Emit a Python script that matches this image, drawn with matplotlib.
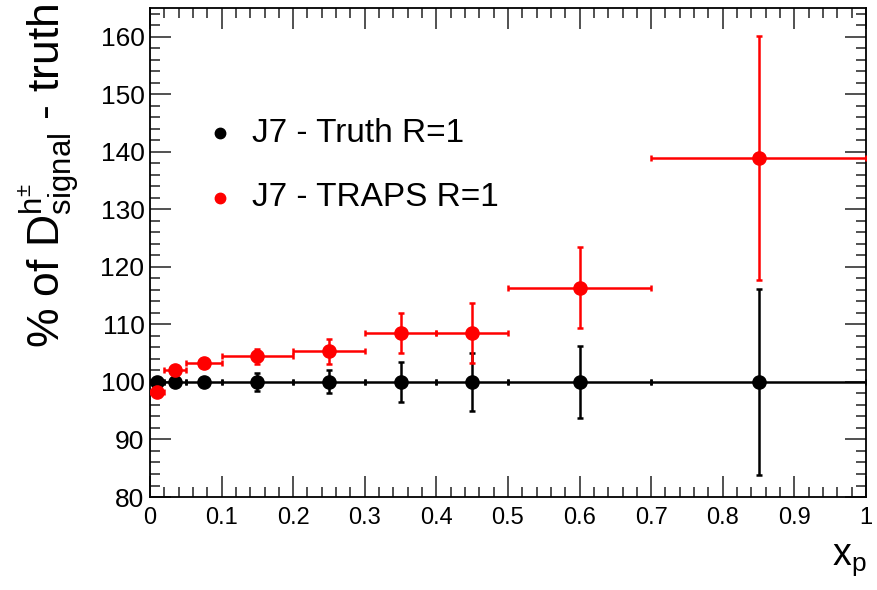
import matplotlib
matplotlib.use("Agg")
import matplotlib.pyplot as plt
from matplotlib.ticker import MultipleLocator

# Bin centres and half-widths in x_p
x_centres = [0.01, 0.035, 0.075, 0.15, 0.25, 0.35, 0.45, 0.6, 0.85]
x_halfwidths = [0.01, 0.015, 0.025, 0.05, 0.05, 0.05, 0.05, 0.1, 0.15]

# Percentage of the truth-level signal for each method
truth_vals = [100, 100, 100, 100, 100, 100, 100, 100, 100]
truth_errs = [0.3, 0.3, 0.4, 1.5, 2.0, 3.4, 5.0, 6.3, 16.2]
traps_vals = [98.3, 102.1, 103.3, 104.5, 105.3, 108.5, 108.5, 116.4, 138.9]
traps_errs = [0.4, 0.5, 0.5, 1.3, 2.2, 3.5, 5.2, 7.1, 21.2]

series_labels = ["J7 - Truth R=1", "J7 - TRAPS R=1"]
series_colors = ["black", "#ff0000"]

x_ticks = [0, 0.1, 0.2, 0.3, 0.4, 0.5, 0.6, 0.7, 0.8, 0.9, 1]
x_ticklabels = ["0", "0.1", "0.2", "0.3", "0.4", "0.5", "0.6", "0.7", "0.8", "0.9", "1"]

plt.rcParams["font.family"] = ["Liberation Sans", "DejaVu Sans"]
plt.rcParams["mathtext.fontset"] = "custom"
plt.rcParams["mathtext.rm"] = "Liberation Sans"
plt.rcParams["mathtext.it"] = "Liberation Sans"

fig = plt.figure(figsize=(8.78, 5.90), dpi=100)
ax = fig.add_axes([0.1708, 0.1576, 0.8155, 0.8288])

for vals, errs, col in [(truth_vals, truth_errs, series_colors[0]),
                        (traps_vals, traps_errs, series_colors[1])]:
    ax.errorbar(x_centres, vals, xerr=x_halfwidths, yerr=errs, fmt="o",
                color=col, ecolor=col, elinewidth=1.8, capsize=2.2,
                capthick=1.8, markersize=9.5, zorder=3)

ax.set_xlim(0, 1)
ax.set_ylim(80, 165)

ax.xaxis.set_minor_locator(MultipleLocator(0.02))
ax.yaxis.set_major_locator(MultipleLocator(10))
ax.yaxis.set_minor_locator(MultipleLocator(2))
ax.set_xticks(x_ticks)
ax.set_xticklabels(x_ticklabels, fontsize=17)
ax.tick_params(axis="both", which="both", direction="in", top=True, right=True,
               width=1.2, color="#333333")
ax.tick_params(axis="both", which="major", length=15)
ax.tick_params(axis="both", which="minor", length=7.5)
ax.tick_params(axis="y", labelsize=19, pad=4)
ax.tick_params(axis="x", pad=7)
for s in ax.spines.values():
    s.set_linewidth(1.3)

# axis titles
fig.text(49 / 878, 1 - 4 / 590,
         r"% of D$^{\mathregular{h^{\pm}}}_{\mathregular{signal}}$ - truth",
         rotation=90, ha="center", va="top", fontsize=32)
fig.text(867 / 878, 25 / 590, r"x$_{\mathregular{p}}$", fontsize=27,
         ha="right", va="baseline")

# legend drawn as markers with text
for i, (lab, col) in enumerate(zip(series_labels, series_colors)):
    yfig = 1 - (133 + 65 * i) / 590
    fig.lines.append(plt.Line2D([220 / 878], [yfig], marker="o", color=col,
                                markersize=7.5, transform=fig.transFigure))
    fig.text(252 / 878, yfig, lab, fontsize=24, va="center", ha="left")

fig.savefig("out.png", dpi=100)
